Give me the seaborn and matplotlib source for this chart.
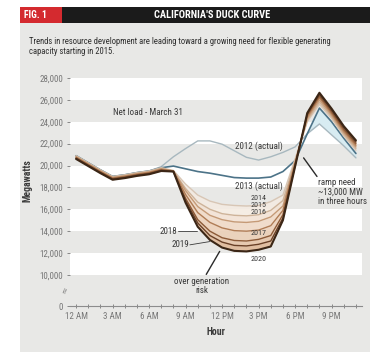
import numpy as np
import pandas as pd
import matplotlib
matplotlib.use("Agg")
import matplotlib.pyplot as plt
from matplotlib import font_manager
from matplotlib.patches import Rectangle
import seaborn as sns

# ---- data -------------------------------------------------------------
hours = list(range(24))
tick_hours = [0, 3, 6, 9, 12, 15, 18, 21]
hour_labels = ["12 AM", "3 AM", "6 AM", "9 AM", "12 PM", "3 PM", "6 PM", "9 PM"]
y_ticks = [0, 10000, 12000, 14000, 16000, 18000, 20000, 22000, 24000, 26000, 28000]

years = ["2012", "2013", "2014", "2015", "2016", "2017", "2018", "2019", "2020"]

load_2012 = [20900, 20250, 19600, 19000, 19150, 19350, 19500, 19900, 20800, 21550, 22250, 22250,
             21950, 21350, 20750, 20500, 20800, 21200, 21700, 22900, 23800, 22800, 21800, 20700]
load_2013 = [20900, 20250, 19600, 19000, 19150, 19350, 19500, 19800, 19950, 19700, 19450, 19300,
             19100, 18900, 18850, 18850, 18950, 19450, 20450, 22900, 25250, 24000, 22500, 21100]
load_2014 = [20900, 20250, 19600, 19000, 19150, 19350, 19500, 19800, 19550, 18300, 17300, 16750,
             16450, 16350, 16300, 16350, 16700, 17300, 20600, 24000, 25600, 24300, 22700, 21400]
load_2015 = [20850, 20200, 19550, 18950, 19100, 19300, 19450, 19750, 19500, 17900, 16650, 16000,
             15600, 15450, 15400, 15500, 15900, 16800, 20400, 24150, 25800, 24450, 22850, 21550]
load_2016 = [20800, 20150, 19500, 18900, 19050, 19250, 19400, 19700, 19500, 17700, 16250, 15450,
             15050, 14850, 14800, 14900, 15300, 16300, 20300, 24300, 26000, 24600, 23000, 21700]
load_2017 = [20750, 20100, 19450, 18850, 19000, 19200, 19350, 19650, 19500, 17350, 15700, 14800,
             14300, 14050, 14000, 14100, 14500, 15900, 20200, 24450, 26200, 24750, 23150, 21850]
load_2018 = [20700, 20050, 19400, 18800, 18950, 19150, 19300, 19600, 19450, 17000, 15050, 14000,
             13400, 13150, 13100, 13250, 13600, 15500, 20100, 24600, 26350, 24900, 23300, 22000]
load_2019 = [20650, 20000, 19350, 18750, 18900, 19100, 19250, 19550, 19450, 16800, 14750, 13600,
             13000, 12700, 12650, 12800, 13100, 15200, 20000, 24700, 26500, 25050, 23450, 22150]
load_2020 = [20600, 19950, 19300, 18700, 18850, 19050, 19200, 19500, 19450, 16600, 14400, 13200,
             12500, 12200, 12150, 12300, 12600, 15000, 19900, 24800, 26650, 25200, 23600, 22300]

series = [load_2012, load_2013, load_2014, load_2015, load_2016,
          load_2017, load_2018, load_2019, load_2020]

# ---- styling ----------------------------------------------------------
sns.set_style("white")
names = {f.name for f in font_manager.fontManager.ttflist}
if "Liberation Sans Narrow" in names:
    NARROW = ["Liberation Sans Narrow", "DejaVu Sans"]
    STRETCH = "normal"
elif "Roboto Condensed" in names:
    NARROW = ["Roboto Condensed", "DejaVu Sans"]
    STRETCH = "normal"
else:
    NARROW = ["DejaVu Sans"]
    STRETCH = "condensed"
plt.rcParams["font.family"] = NARROW
plt.rcParams["font.stretch"] = STRETCH

PANEL = "#e8e8e6"
TXT = "#3a3a3a"
TICK = "#777777"

line_colors = {
    "2012": "#a8b8bf", "2013": "#4c7388",
    "2014": "#d8c6b5", "2015": "#ceb399", "2016": "#c59a76", "2017": "#b07c55",
    "2018": "#8d5a37", "2019": "#6a4026", "2020": "#3b2616",
}
fill_colors = ["#f4ebe2", "#f2e2d4", "#efd9c6", "#ebd0b8", "#e6c6aa", "#e0ba9a"]

df = pd.DataFrame({
    "hour": hours * len(years),
    "load": np.concatenate(series),
    "year": np.repeat(years, len(hours)),
})

# broken axis: the 0-10,000 range is squeezed into a short stub
def fwd(v):
    v = np.asarray(v, dtype=float)
    return np.where(v >= 10000, v, 10000 - (10000 - v) * 0.284)

def inv(t):
    t = np.asarray(t, dtype=float)
    return np.where(t >= 10000, t, 10000 - (10000 - t) / 0.284)

W, H = 370, 352
fig = plt.figure(figsize=(W / 100, H / 100), dpi=100)
fig.patch.set_facecolor("white")

# panel background and header bar
fig.patches.append(Rectangle((20 / W, 0), 350 / W, (H - 23) / H, transform=fig.transFigure,
                             facecolor=PANEL, edgecolor="none", zorder=-2))
fig.patches.append(Rectangle((20 / W, (H - 23) / H), 350 / W, 16 / H, transform=fig.transFigure,
                             facecolor="#1b1b1b", edgecolor="none", zorder=-1))
fig.patches.append(Rectangle((20 / W, (H - 23) / H), 42 / W, 16 / H, transform=fig.transFigure,
                             facecolor="#d42a2f", edgecolor="none", zorder=-1))
fig.text(24 / W, 1 - 15 / H, "FIG. 1", color="white", fontsize=7, fontweight="bold",
         va="center", ha="left")
fig.text(212 / W, 1 - 15 / H, "CALIFORNIA'S DUCK CURVE", color="white", fontsize=7.5,
         fontweight="bold", va="center", ha="center")
fig.text(29 / W, 1 - 41 / H,
         "Trends in resource development are leading toward a growing need for flexible generating",
         color="#2e2e2e", fontsize=6.2, va="center", ha="left")
fig.text(29 / W, 1 - 51 / H, "capacity starting in 2015.",
         color="#2e2e2e", fontsize=6.2, va="center", ha="left")

ax = fig.add_axes([70 / W, (H - 306) / H, 292 / W, 228 / H])
ax.set_facecolor(PANEL)
ax.set_yscale("function", functions=(fwd, inv))
ax.set_ylim(0, 28000)
ax.set_xlim(-0.5, 23.5)

for lo in (26000, 22000, 18000, 14000, 10000):
    ax.axhspan(lo, lo + 2000, color="white", lw=0, zorder=0)

# shading between the yearly curves
x = np.array(hours)
ax.fill_between(x, load_2012, load_2013, where=np.array(load_2013) > np.array(load_2012),
                interpolate=True, color="#d8ecf2", lw=0, zorder=1)
proj = series[2:]
for k in range(len(proj) - 1):
    ax.fill_between(x, proj[k], proj[k + 1], color=fill_colors[k], lw=0, alpha=0.9, zorder=1)

sns.lineplot(data=df, x="hour", y="load", hue="year", hue_order=years,
             palette=line_colors, legend=False, ax=ax, linewidth=1.0, zorder=2)
for ln, yr in zip(ax.get_lines(), years):
    if yr == "2020":
        ln.set_linewidth(1.5)
    elif yr == "2013":
        ln.set_linewidth(1.2)

# axes cosmetics
for s in ("left", "right", "top"):
    ax.spines[s].set_visible(False)
ax.spines["bottom"].set_color("#8c8c8c")
ax.spines["bottom"].set_linewidth(0.8)
ax.set_yticks(y_ticks)
ax.set_yticklabels([f"{v:,}" for v in y_ticks])
ax.yaxis.set_minor_locator(matplotlib.ticker.NullLocator())
ax.set_xticks(tick_hours)
ax.set_xticklabels(hour_labels)
ax.set_xticks(hours, minor=True)
ax.tick_params(axis="y", which="both", length=2, width=0.6, color=TICK, labelcolor=TICK,
               labelsize=6.5, pad=3, left=True)
ax.tick_params(axis="x", which="both", length=3, width=0.6, color=TICK, direction="inout",
               labelcolor=TICK, labelsize=6.5, pad=3, bottom=True)
ax.set_xlabel("Hour", fontsize=7, fontweight="bold", color=TXT, labelpad=4)
ax.set_ylabel("Megawatts", fontsize=7, fontweight="bold", color=TXT)
ax.yaxis.set_label_coords(-0.13, 0.55)
ax.grid(False)

# axis break mark
ax.text(-0.02, 0.07, "≈", transform=ax.transAxes, rotation=70, fontsize=6, color=TICK,
        ha="center", va="center", family=["DejaVu Sans"])

# annotations
lab = dict(fontsize=6.5, color=TXT)
small = dict(fontsize=5.8, color=TXT, ha="center", va="center")
ax.text(5.9, 24850, "Net load - March 31", ha="center", va="center", **lab)
ax.text(15.0, 21750, "2012 (actual)", ha="center", va="center", **lab)
ax.text(15.0, 18100, "2013 (actual)", ha="center", va="center", **lab)
ax.text(15.0, 17050, "2014", **small)
ax.text(15.0, 16380, "2015", **small)
ax.text(15.0, 15720, "2016", **small)
ax.text(15.0, 13800, "2017", **small)
ax.text(15.0, 11450, "2020", **small)
ax.text(8.3, 14000, "2018", ha="right", va="center", **lab)
ax.plot([8.35, 9.9], [14000, 14000], color="#3a3a3a", lw=0.6, zorder=3)
ax.text(9.3, 12750, "2019", ha="right", va="center", **lab)
ax.plot([9.35, 11.0], [12750, 13050], color="#3a3a3a", lw=0.6, zorder=3)
ax.text(10.3, 9200, "over generation\nrisk", ha="center", va="top", linespacing=0.95, **lab)
ax.plot([10.7, 11.8], [10050, 12150], color="#2a2a2a", lw=1.0, zorder=3)
ax.text(19.9, 17600, "ramp need\n~13,000 MW\nin three hours", ha="left", va="center",
        linespacing=1.05, **lab)
ax.plot([18.7, 19.8], [20700, 19000], color="#2a2a2a", lw=1.0, zorder=3)

fig.savefig("out.png", dpi=100, facecolor="white")
